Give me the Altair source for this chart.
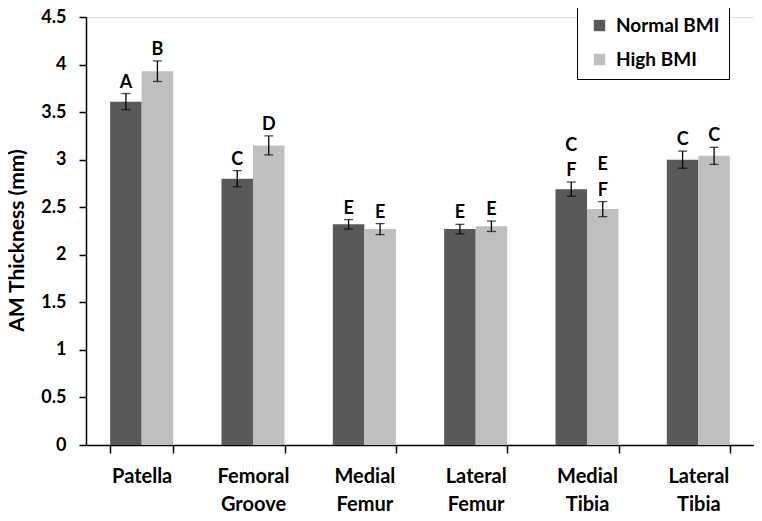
import altair as alt
import pandas as pd

regions = ["Patella", "Femoral Groove", "Medial Femur", "Lateral Femur", "Medial Tibia", "Lateral Tibia"]
groups = ["Normal BMI", "High BMI"]
normal_vals = [3.61, 2.80, 2.32, 2.27, 2.69, 3.00]
high_vals = [3.93, 3.15, 2.27, 2.30, 2.48, 3.04]
normal_err = [0.085, 0.085, 0.05, 0.05, 0.075, 0.09]
high_err = [0.108, 0.10, 0.058, 0.055, 0.079, 0.09]
# letter right above the error bar, and an optional second letter above it
normal_lbl = ["A", "C", "E", "E", "F", "C"]
high_lbl = ["B", "D", "E", "E", "F", "C"]
normal_lbl2 = ["", "", "", "", "C", ""]
high_lbl2 = ["", "", "", "", "E", ""]

rows = []
for i, r in enumerate(regions):
    rows.append(dict(region=r, group=groups[0], value=normal_vals[i], err=normal_err[i],
                     label=normal_lbl[i], label2=normal_lbl2[i]))
    rows.append(dict(region=r, group=groups[1], value=high_vals[i], err=high_err[i],
                     label=high_lbl[i], label2=high_lbl2[i]))
df = pd.DataFrame(rows)
df["lo"] = df["value"] - df["err"]
df["hi"] = df["value"] + df["err"]

FONT = "Lato"

x = alt.X("region:N", sort=regions, title=None,
          scale=alt.Scale(paddingInner=0.434, paddingOuter=0.217),
          axis=alt.Axis(labelAngle=0, labelFontSize=20, labelFontWeight="bold", labelFont=FONT,
                        labelColor="black",
                        labelExpr="isValid(datum.value) ? split(datum.value, ' ') : ''",
                        labelLineHeight=28,
                        tickBand="extent", tickSize=8, tickColor="black", domainColor="black",
                        domainWidth=1.5, tickWidth=1.5, labelPadding=13))
xo = alt.XOffset("group:N", sort=groups, scale=alt.Scale(paddingInner=0, paddingOuter=0))

bars = alt.Chart(df).mark_bar().encode(
    x=x, xOffset=xo,
    y=alt.Y("value:Q", title="AM Thickness (mm)",
            scale=alt.Scale(domain=[0, 4.5], nice=False),
            axis=alt.Axis(values=[0, 0.5, 1, 1.5, 2, 2.5, 3, 3.5, 4, 4.5], format="~g", grid=False,
                          labelFontSize=18, labelFontWeight="bold", labelFont=FONT, labelColor="black",
                          titleFontSize=21, titleFontWeight="bold", titleFont=FONT, titleColor="black",
                          titleY=223,
                          tickSize=7, tickColor="black", domainColor="black", domainWidth=1.5,
                          tickWidth=1.5, labelPadding=13, titlePadding=13)),
    color=alt.Color("group:N", sort=groups,
                    scale=alt.Scale(domain=groups, range=["#595959", "#bfbfbf"]),
                    legend=alt.Legend(title=None, orient="none", legendX=491, legendY=-10,
                                      symbolType="square", symbolSize=130, symbolStrokeWidth=0,
                                      symbolOffset=4,
                                      labelFontSize=19, labelFontWeight="bold", labelFont=FONT,
                                      labelColor="black", strokeColor="black", fillColor="white",
                                      padding=9, rowPadding=14, labelOffset=7)),
)

rules = alt.Chart(df).mark_rule(color="black", strokeWidth=1.3).encode(
    x=alt.X("region:N", sort=regions), xOffset=xo,
    y="lo:Q", y2="hi:Q")

caps_lo = alt.Chart(df).mark_tick(color="black", thickness=1.3, size=9).encode(
    x=alt.X("region:N", sort=regions), xOffset=xo, y="lo:Q")
caps_hi = alt.Chart(df).mark_tick(color="black", thickness=1.3, size=9).encode(
    x=alt.X("region:N", sort=regions), xOffset=xo, y="hi:Q")

texts = alt.Chart(df).mark_text(font=FONT, fontSize=18, fontWeight="bold", color="black",
                                baseline="alphabetic", dy=-6).encode(
    x=alt.X("region:N", sort=regions), xOffset=xo, y="hi:Q", text="label:N")
texts2 = alt.Chart(df).mark_text(font=FONT, fontSize=18, fontWeight="bold", color="black",
                                 baseline="alphabetic", dy=-31.5).encode(
    x=alt.X("region:N", sort=regions), xOffset=xo, y="hi:Q", text="label2:N")

chart = alt.layer(bars, rules, caps_lo, caps_hi, texts, texts2).properties(
    width=668, height=428,
    autosize=alt.AutoSizeParams(type="none"),
    padding={"left": 78, "top": 9, "right": 0, "bottom": 68},
).configure_view(strokeOpacity=0).configure(background="white")

chart.save("out.html", embed_options={"renderer": "svg", "actions": False})
